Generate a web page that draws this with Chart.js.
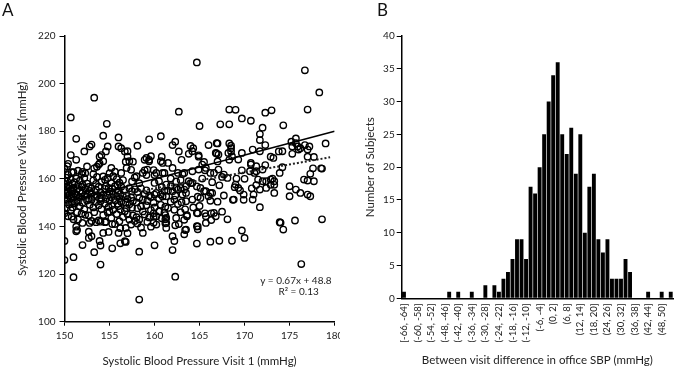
<!DOCTYPE html>
<html><head><meta charset="utf-8">
<script src="https://cdn.jsdelivr.net/npm/chart.js@4.4.1/dist/chart.umd.min.js"></script>
<style>
html,body{margin:0;padding:0;background:#fff;}
#wrap{position:relative;width:675px;height:369px;overflow:hidden;font-family:Lato,sans-serif;}
#ca{position:absolute;left:0;top:0;}
#cb{position:absolute;left:340px;top:0;}
.lbl{position:absolute;font-size:17px;color:#111;line-height:17px;}
</style></head>
<body><div id="wrap">
<canvas id="ca" width="340" height="369"></canvas>
<canvas id="cb" width="335" height="369"></canvas>
<div class="lbl" style="left:2px;top:1px">A</div>
<div class="lbl" style="left:377px;top:1px">B</div>
</div>
<script>
// ---------- Panel A: scatter (visit 1 SBP, visit 2 SBP) ----------
const sbpPairs = [
[150.0,125.9],[150.0,133.9],[150.0,145.5],[150.0,152.0],[150.0,155.2],[150.0,157.8],[150.0,164.4],
[150.2,147.6],[150.2,153.9],[150.2,156.8],[150.2,160.5],
[150.3,150.8],[150.3,158.9],[150.3,165.3],
[150.4,144.3],[150.4,154.6],[150.4,161.7],[150.4,166.3],
[150.5,149.2],[150.5,152.9],[150.5,156.0],[150.5,157.2],
[150.7,146.9],[150.7,151.7],[150.7,155.5],[150.7,170.0],[150.7,185.8],[150.7,159.8],
[150.8,144.1],[150.8,150.2],[150.8,153.6],[150.8,162.8],
[150.9,148.0],[150.9,154.8],[150.9,157.9],
[151.0,118.7],[151.0,127.1],[151.0,143.0],[151.0,152.5],[151.0,156.3],[151.0,162.8],
[151.1,149.6],[151.1,154.0],[151.1,158.6],
[151.3,138.0],[151.3,139.9],[151.3,153.2],[151.3,160.1],[151.3,168.0],[151.3,176.8],
[151.4,138.5],[151.4,146.0],[151.4,151.1],[151.4,155.7],
[151.5,142.9],[151.5,150.4],[151.5,157.4],[151.5,163.4],
[151.7,148.5],[151.7,152.2],[151.7,155.0],[151.7,159.2],
[151.9,145.4],[151.9,153.8],[151.9,156.6],[151.9,162.0],
[152.0,132.2],[152.0,141.5],[152.0,150.0],[152.0,154.4],[152.0,162.9],[152.0,157.6],
[152.2,147.2],[152.2,152.7],[152.2,160.4],[152.2,171.5],
[152.3,144.9],[152.3,155.9],[152.3,162.4],
[152.5,150.9],[152.5,153.5],[152.5,158.0],[152.5,165.2],
[152.7,135.2],[152.7,137.8],[152.7,144.6],[152.7,151.6],[152.7,156.6],
[152.8,141.5],[152.8,149.1],[152.8,154.9],[152.8,173.6],
[153.0,135.9],[153.0,142.3],[153.0,151.2],[153.0,156.1],[153.0,174.4],[153.0,153.8],
[153.2,148.0],[153.2,159.4],[153.2,162.0],
[153.3,129.2],[153.3,146.0],[153.3,152.6],[153.3,164.4],[153.3,194.1],
[153.5,141.8],[153.5,150.3],[153.5,155.4],[153.5,157.9],
[153.6,153.2],[153.6,160.8],[153.6,165.1],
[153.8,142.5],[153.8,148.9],[153.8,156.7],[153.8,166.0],
[153.9,133.9],[153.9,151.8],[153.9,166.5],[153.9,169.3],
[154.0,124.0],[154.0,132.0],[154.0,142.0],[154.0,150.6],[154.0,154.4],
[154.1,147.3],[154.1,152.0],[154.1,158.8],[154.1,170.0],
[154.3,137.3],[154.3,144.8],[154.3,153.4],[154.3,161.0],[154.3,178.1],[154.3,167.4],
[154.5,141.8],[154.5,149.6],[154.5,155.8],[154.5,159.6],
[154.6,142.0],[154.6,151.5],[154.6,157.0],[154.6,171.5],
[154.8,145.9],[154.8,153.0],[154.8,160.4],[154.8,173.6],[154.7,183.1],
[154.9,137.7],[154.9,148.2],[154.9,156.2],
[155.0,150.9],[155.0,154.6],[155.0,162.4],[155.0,146.3],
[155.2,143.6],[155.2,152.3],[155.2,158.2],[155.2,164.6],
[155.3,130.8],[155.3,141.0],[155.3,149.0],[155.3,155.9],
[155.4,147.0],[155.4,153.7],[155.4,161.1],
[155.6,141.0],[155.6,151.0],[155.6,156.9],[155.6,163.0],
[155.8,145.2],[155.8,152.8],[155.8,159.9],
[155.9,149.5],[155.9,154.2],[155.9,157.5],
[156.0,137.3],[156.0,148.6],[156.0,155.0],[156.0,173.6],[156.0,177.4],
[156.1,142.2],[156.1,151.9],[156.1,158.4],
[156.2,132.9],[156.2,139.3],[156.2,147.1],[156.2,153.6],
[156.3,150.3],[156.3,156.7],[156.3,162.5],[156.3,172.9],
[156.5,144.0],[156.5,152.6],[156.5,159.5],
[156.7,133.8],[156.7,146.4],[156.7,155.3],[156.7,171.5],
[156.8,133.5],[156.8,139.4],[156.8,150.0],[156.8,167.2],
[156.9,147.7],[156.9,153.0],[156.9,164.6],
[157.0,137.2],[157.0,145.1],[157.0,151.5],[157.0,169.3],[157.0,171.6],
[157.2,142.9],[157.2,149.3],[157.2,156.1],[157.2,167.4],
[157.4,140.8],[157.4,152.2],[157.4,163.8],
[157.5,147.9],[157.5,154.8],[157.5,158.9],
[157.6,144.6],[157.6,150.7],[157.6,167.2],
[157.8,142.3],[157.8,155.6],[157.8,160.6],
[158.0,143.9],[158.0,150.1],[158.0,161.1],
[158.1,141.2],[158.1,147.6],[158.1,154.5],[158.1,173.9],
[158.3,109.3],[158.3,129.4],[158.3,142.9],[158.3,152.0],[158.3,158.2],
[158.5,139.6],[158.5,148.4],[158.5,156.0],
[158.7,137.3],[158.7,146.3],[158.7,151.4],[158.7,162.5],
[158.9,145.0],[158.9,153.6],[158.9,163.6],[158.9,168.0],
[159.1,148.9],[159.1,155.2],[159.1,161.6],[159.1,168.8],
[159.2,141.9],[159.2,150.7],[159.2,163.9],
[159.4,143.8],[159.4,153.0],[159.4,167.4],[159.4,176.6],[159.4,168.0],
[159.6,139.9],[159.6,146.9],[159.6,152.4],[159.6,169.5],
[159.9,141.6],[159.9,144.1],[159.9,145.5],[159.9,150.0],[159.9,163.7],
[160.0,132.1],[160.0,148.0],[160.0,153.4],[160.0,158.3],[160.0,161.6],
[160.2,140.8],[160.2,144.3],[160.2,154.1],[160.2,162.5],
[160.5,146.3],[160.5,151.8],[160.5,159.0],
[160.7,149.1],[160.7,153.4],[160.7,177.9],[160.7,167.4],
[160.8,143.4],[160.8,156.6],[160.8,169.3],
[160.9,152.6],[160.9,162.5],[160.9,166.7],
[161.1,145.8],[161.1,154.9],[161.1,162.5],
[161.2,141.3],[161.2,143.0],[161.2,144.8],[161.2,148.3],
[161.3,139.4],[161.3,141.5],[161.3,143.6],[161.3,152.7],[161.3,157.6],
[161.5,147.8],[161.5,155.0],[161.5,166.7],
[161.8,150.4],[161.8,156.9],[161.8,160.1],
[162.0,130.1],[162.0,135.9],[162.0,154.8],[162.0,164.6],[162.0,174.2],
[162.2,133.9],[162.2,147.0],[162.2,151.3],
[162.3,118.9],[162.3,140.5],[162.3,153.0],[162.3,175.6],
[162.4,143.6],[162.4,156.2],[162.4,158.9],
[162.6,155.5],[162.6,162.5],[162.6,149.4],
[162.7,188.2],[162.7,171.5],[162.7,141.0],
[162.9,146.0],[162.9,156.2],[162.9,159.5],
[163.0,168.0],[163.0,150.2],
[163.1,153.4],[163.1,162.0],
[163.3,136.7],[163.3,155.5],[163.3,162.5],[163.3,142.8],
[163.4,138.5],[163.4,147.2],
[163.5,138.7],[163.5,150.6],[163.5,154.1],[163.5,156.9],
[163.6,144.3],[163.6,144.8],
[163.8,159.0],[163.8,170.5],
[164.0,173.8],[164.0,158.2],
[164.2,151.3],[164.2,158.3],[164.2,163.2],[164.2,171.6],
[164.3,172.9],[164.3,148.0],
[164.7,132.8],[164.7,140.1],[164.7,145.7],[164.7,156.8],[164.7,208.9],
[164.8,145.5],[164.8,140.0],[164.8,138.8],[164.8,152.5],
[164.9,163.9],[164.9,169.3],[164.9,169.9],
[165.0,182.2],[165.0,148.6],
[165.1,152.0],[165.1,156.2],
[165.3,166.0],[165.3,160.1],
[165.5,167.1],[165.5,154.8],
[165.6,145.5],[165.6,163.6],
[165.7,141.5],[165.7,144.3],[165.7,154.8],[165.7,164.6],
[166.0,152.7],[166.0,174.2],
[166.2,133.6],[166.2,154.1],[166.2,162.5],[166.2,150.8],
[166.3,142.7],[166.3,145.5],
[166.4,154.1],[166.4,158.6],
[166.6,145.7],[166.6,162.5],
[166.8,144.3],[166.8,170.9],
[166.9,175.0],[166.9,170.7],
[167.0,174.9],[167.0,150.4],[167.0,167.3],
[167.1,163.9],[167.1,170.2],
[167.2,134.0],[167.2,157.3],
[167.3,182.9],
[167.5,146.2],[167.5,160.8],
[167.7,161.8],[167.7,153.0],
[168.1,160.4],[168.1,143.0],
[168.2,170.9],
[168.3,189.1],[168.3,182.9],[168.3,174.9],[168.3,168.0],
[168.5,173.9],[168.5,172.9],[168.5,171.5],
[168.6,134.0],[168.6,169.5],
[168.7,151.2],[168.8,151.3],[168.9,156.5],
[169.0,189.0],[169.0,157.6],
[169.1,160.1],
[169.3,156.2],[169.3,168.1],
[169.5,155.1],
[169.7,185.4],[169.7,138.3],[169.7,170.9],[169.7,163.6],
[169.9,153.4],[169.9,151.2],
[170.0,135.2],[170.0,160.0],
[170.6,163.2],
[170.7,184.4],[170.7,166.7],[170.7,166.0],
[170.8,156.0],
[170.9,172.3],[170.9,151.3],
[171.0,153.4],
[171.1,162.5],
[171.3,165.3],[171.3,163.2],[171.3,157.4],
[171.5,159.7],
[171.7,178.8],[171.7,176.3],[171.7,171.6],[171.7,155.5],[171.7,148.1],
[172.0,181.5],[172.0,159.0],[172.0,163.9],
[172.3,187.8],[172.3,174.2],[172.3,165.8],
[172.4,159.0],[172.4,156.2],
[172.9,159.7],[172.9,157.5],[172.9,169.3],
[173.0,188.8],
[173.1,160.1],
[173.2,168.8],
[173.3,159.0],[173.3,157.5],[173.3,154.1],
[173.8,171.5],
[173.9,162.5],[173.9,141.8],
[174.0,141.6],
[174.2,171.6],[174.2,164.9],
[174.3,182.5],[174.3,138.7],
[175.0,156.9],[175.0,152.7],
[175.2,175.6],
[175.3,170.5],[175.3,173.6],
[175.6,142.5],
[175.7,177.0],[175.7,155.5],[175.7,175.0],
[175.9,173.6],
[176.0,172.3],
[176.2,154.1],[176.2,172.9],
[176.3,124.2],
[176.6,159.7],
[176.7,205.6],[176.7,174.2],
[177.0,189.1],[177.0,153.4],[177.0,159.3],[177.0,172.3],[177.0,169.3],
[177.2,173.6],
[177.3,152.7],[177.3,162.1],
[177.6,164.4],
[177.7,159.0],[177.7,169.2],
[178.3,196.3],
[178.5,164.4],
[178.6,143.0],[178.6,164.3],
[179.0,174.9]
];
const identityRange = [150, 180];      // solid line y = x
const fitSlope = 0.67, fitIntercept = 48.8;
const fitRange = [150, 179.5];         // dotted regression line
const eqText = 'y = 0.67x + 48.8';
const r2Text = 'R\u00B2 = 0.13';

// ---------- Panel B: histogram of between-visit differences ----------
const binLabels = ['[-66, -64]','(-64, -62]','(-62, -60]','(-60, -58]','(-58, -56]','(-56, -54]','(-54, -52]','(-52, -50]','(-50, -48]','(-48, -46]',
'(-46, -44]','(-44, -42]','(-42, -40]','(-40, -38]','(-38, -36]','(-36, -34]','(-34, -32]','(-32, -30]','(-30, -28]','(-28, -26]',
'(-26, -24]','(-24, -22]','(-22, -20]','(-20, -18]','(-18, -16]','(-16, -14]','(-14, -12]','(-12, -10]','(-10, -8]','(-8, -6]',
'(-6, -4]','(-4, -2]','(-2, 0]','(0, 2]','(2, 4]','(4, 6]','(6, 8]','(8, 10]','(10, 12]','(12, 14]',
'(14, 16]','(16, 18]','(18, 20]','(20, 22]','(22, 24]','(24, 26]','(26, 28]','(28, 30]','(30, 32]','(32, 34]',
'(34, 36]','(36, 38]','(38, 40]','(40, 42]','(42, 44]','(44, 46]','(46, 48]','(48, 50]','(50, 52]','(52, 54]'];
const binCounts = [1,0,0,0,0,0,0,0,0,0, 1,0,1,0,0,1,0,0,2,0, 2,1,3,4,6,9,9,6,17,16,
 20,25,30,34,36,25,22,26,19,25, 10,17,19,9,7,9,3,3,3,6, 4,0,0,0,1,0,0,1,0,1];

Chart.defaults.font.family = "Lato, 'DejaVu Sans', sans-serif";
Chart.defaults.color = '#222';

function fixSize(size, horiz){
  return function(s){
    if (horiz) s.height = size; else s.width = size;
    s.paddingLeft = 0; s.paddingRight = 0; s.paddingTop = 0; s.paddingBottom = 0;
  };
}
const common = {responsive:false, animation:false, events:[], devicePixelRatio:1,
  plugins:{legend:{display:false}, tooltip:{enabled:false}}};

const annot = {id:'annot', afterDatasetsDraw(chart){
  const {ctx, scales:{x, y}} = chart;
  ctx.save();
  ctx.font = "10px Lato, sans-serif"; ctx.fillStyle = '#222';
  ctx.textAlign = 'center'; ctx.textBaseline = 'middle';
  ctx.fillText(eqText, x.getPixelForValue(175.7), y.getPixelForValue(117.1));
  ctx.fillText(r2Text, x.getPixelForValue(176.0), y.getPixelForValue(112.5));
  ctx.restore();
}};

new Chart(document.getElementById('ca'), {
  type:'scatter',
  data:{datasets:[
    {type:'line', data: identityRange.map(v=>({x:v, y:v})), borderColor:'#000', borderWidth:1.6, pointRadius:0, fill:false},
    {type:'line', data: fitRange.map(v=>({x:v, y:fitSlope*v+fitIntercept})), borderColor:'#222', borderWidth:2, borderDash:[2,2], pointRadius:0, fill:false},
    {data: sbpPairs.map(p=>({x:p[0], y:p[1]})), pointRadius:3.2, pointBorderWidth:1.4,
     pointBorderColor:'#000', pointBackgroundColor:'rgba(0,0,0,0)', borderColor:'#000', backgroundColor:'rgba(0,0,0,0)'}
  ]},
  options:Object.assign({}, common, {
    layout:{padding:{left:0, top:36, right:3.3, bottom:0}},
    scales:{
      x:{type:'linear', min:150, max:180,
         ticks:{stepSize:5, font:{size:10}, padding:4},
         grid:{drawOnChartArea:false, drawTicks:true, tickLength:4, color:'#000', lineWidth:1},
         border:{color:'#000', width:1.5},
         title:{display:true, text:'Systolic Blood Pressure Visit 1 (mmHg)', font:{size:11.5}, color:'#222', padding:{top:0, bottom:0.5}},
         afterFit: fixSize(47.3, true)},
      y:{type:'linear', min:100, max:220,
         ticks:{stepSize:20, font:{size:10}, padding:4},
         grid:{drawOnChartArea:false, drawTicks:true, tickLength:5, color:'#000', lineWidth:1},
         border:{color:'#000', width:1.5},
         title:{display:true, text:'Systolic Blood Pressure Visit 2 (mmHg)', font:{size:11.5}, color:'#222', padding:{top:15, bottom:0}},
         afterFit: fixSize(64.5, false)}
    }
  }),
  plugins:[annot]
});

new Chart(document.getElementById('cb'), {
  type:'bar',
  data:{labels: binLabels, datasets:[{data: binCounts, backgroundColor:'#000', borderWidth:0, barPercentage:0.86, categoryPercentage:1}]},
  options:Object.assign({}, common, {
    layout:{padding:{left:0, top:36, right:2, bottom:0}},
    scales:{
      x:{ticks:{autoSkip:false, minRotation:90, maxRotation:90, font:{size:9.5}, padding:5,
               callback:(v,i)=> i%3===0 ? binLabels[i] : ''},
         grid:{drawOnChartArea:false, drawTicks:false},
         border:{color:'#000', width:1.5},
         title:{display:true, text:'Between visit difference in office SBP (mmHg)', font:{size:11.5}, color:'#222', padding:{top:0, bottom:2.2}},
         afterFit: fixSize(70.7, true)},
      y:{min:0, max:40,
         ticks:{stepSize:5, font:{size:10}, padding:2},
         grid:{drawOnChartArea:false, drawTicks:true, tickLength:5, color:'#000', lineWidth:1},
         border:{color:'#000', width:1.5},
         title:{display:true, text:'Number of Subjects', font:{size:11.5}, color:'#222', padding:{top:23, bottom:0}},
         afterFit: fixSize(61.7, false)}
    }
  })
});
</script>
</body></html>
